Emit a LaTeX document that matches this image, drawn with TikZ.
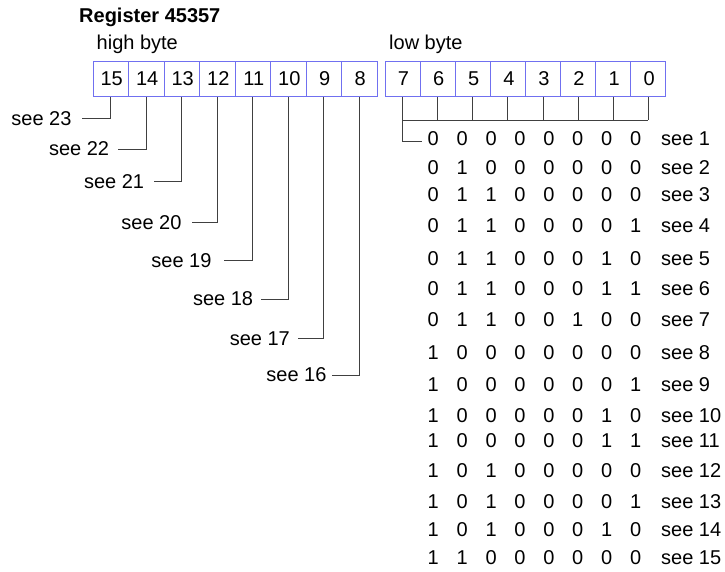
\documentclass[tikz,border=0pt]{standalone}
\usepackage{fontspec}
\setmainfont{Liberation Sans}
\usetikzlibrary{calc}
\definecolor{boxblue}{RGB}{112,112,240}
\definecolor{wire}{RGB}{64,64,64}
\tikzset{
  txt/.style={inner sep=0pt, font=\fontsize{20}{24}\selectfont},
  bitbox/.style={draw=boxblue, line width=1pt, minimum width=35.5pt, minimum height=35.5pt, inner sep=0pt, font=\fontsize{20}{24}\selectfont},
  wireline/.style={draw=wire, line width=0.9pt},
}
\begin{document}
\begin{tikzpicture}[x=1pt,y=-1pt]
\useasboundingbox (0,0) rectangle (725,571);
\node[txt, font=\bfseries\fontsize{20}{24}\selectfont, anchor=base west] (title) at (79,22) {Register 45357};
\node[txt, anchor=base west] (hb) at (96.5,49) {high byte};
\node[txt, anchor=base west] (lb) at (389,49) {low byte};
% high byte boxes
\foreach \b [count=\i from 0] in {15,14,13,12,11,10,9,8} {
  \node[bitbox] (b\b) at ({93+35.5*(\i+0.5)},79) {\hspace{2pt}\b};
}
% low byte boxes
\foreach \b [count=\i from 0] in {7,6,5,4,3,2,1,0} {
  \node[bitbox, minimum width=35.1pt] (b\b) at ({385+35.1*(\i+0.5)},79) {\hspace{2pt}\b};
}
% high byte labels
\foreach \b/\n/\y/\xs/\xe in {15/23/118.3/81.7/71.7, 14/22/149/118/109.3, 13/21/181.7/154/144.3, 12/20/222.3/191.7/181.7, 11/19/260.7/224/211.7, 10/18/299/261/253.3, 9/17/338.3/298/290, 8/16/375/332/326.7} {
  \node[txt, anchor=east] (s\n) at (\xe,\y) {see \n};
  \coordinate (e\n) at (\xs,\y);
  \draw[wireline] (b\b.south) |- (e\n);
}
% low byte bracket
\coordinate (barL) at (b7.south |- 0,120);
\coordinate (barR) at (b0.south |- 0,120);
\foreach \b in {6,5,4,3,2,1,0} {
  \draw[wireline] (b\b.south) -- (b\b.south |- barL);
}
\draw[wireline] (barL) -- (barR);
\coordinate (e1) at (422,141.7);
\draw[wireline] (b7.south) |- (e1);
% rows
\foreach \n/\y/\ba/\bb/\bc/\bd/\be/\bf/\bg/\bh in {
  1/139/0/0/0/0/0/0/0/0,
  2/167.7/0/1/0/0/0/0/0/0,
  3/195/0/1/1/0/0/0/0/0,
  4/225.7/0/1/1/0/0/0/0/1,
  5/259/0/1/1/0/0/0/1/0,
  6/289/0/1/1/0/0/0/1/1,
  7/320/0/1/1/0/0/1/0/0,
  8/352.3/1/0/0/0/0/0/0/0,
  9/385/1/0/0/0/0/0/0/1,
  10/415.7/1/0/0/0/0/0/1/0,
  11/441/1/0/0/0/0/0/1/1,
  12/471/1/0/1/0/0/0/0/0,
  13/501.7/1/0/1/0/0/0/0/1,
  14/529.3/1/0/1/0/0/0/1/0,
  15/557.7/1/1/0/0/0/0/0/0} {
  \foreach \k/\v in {0/\ba,1/\bb,2/\bc,3/\bd,4/\be,5/\bf,6/\bg,7/\bh} {
    \node[txt] (r\n c\k) at ({433.3+28.9*\k},\y) {\v};
  }
  \node[txt, anchor=west] (see\n) at (661,\y) {see \n};
}
\end{tikzpicture}
\end{document}
